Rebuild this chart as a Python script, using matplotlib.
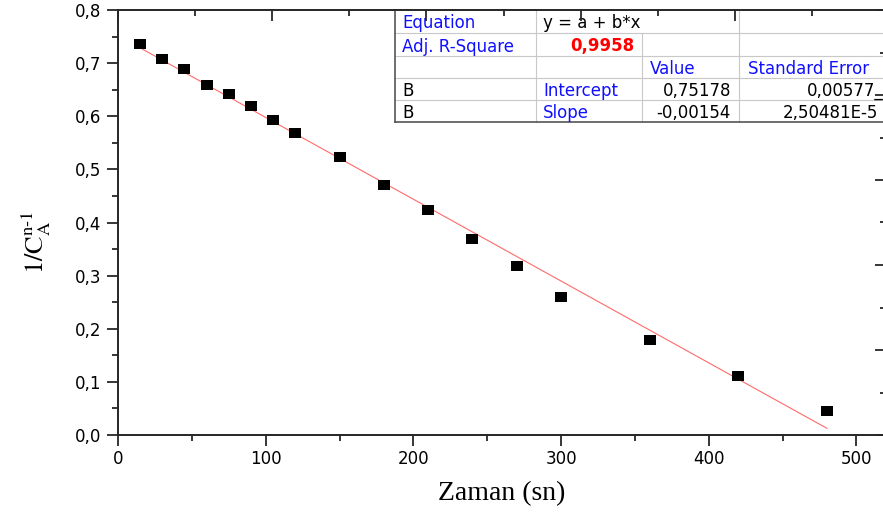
import matplotlib
matplotlib.use("Agg")
import matplotlib.pyplot as plt
from matplotlib.ticker import MultipleLocator, FuncFormatter
from matplotlib.patches import Rectangle

# Measured data: time (s) vs 1/C_A^(n-1)
zaman = [15, 30, 45, 60, 75, 90, 105, 120, 150, 180, 210, 240, 270, 300, 360, 420, 480]
inv_ca = [0.736, 0.708, 0.689, 0.659, 0.642, 0.619, 0.593, 0.568, 0.523, 0.470,
          0.423, 0.369, 0.318, 0.260, 0.179, 0.111, 0.045]

# Linear fit results (y = a + b*x)
intercept = 0.75178
slope = -0.00154
adj_r2 = 0.9958
intercept_err = "0,00577_"
slope_err = "2,50481E-5"

x_ticks = [0, 100, 200, 300, 400, 500]
y_ticks = [0.0, 0.1, 0.2, 0.3, 0.4, 0.5, 0.6, 0.7, 0.8]

W, H = 883, 515
fig = plt.figure(figsize=(W / 100, H / 100), dpi=100)

def frac(x0, y0, x1, y1):
    return [x0 / W, 1 - y1 / H, (x1 - x0) / W, (y1 - y0) / H]

axis_color = "#262626"
ax = fig.add_axes(frac(118, 10, 886, 435))
ax.set_xlim(0, 520)
ax.set_ylim(0, 0.8)
ax.set_zorder(0)

# data points as slightly wide black squares
rect_marker = [(-1, -0.8), (1, -0.8), (1, 0.8), (-1, 0.8), (-1, -0.8)]
ax.plot(zaman, inv_ca, linestyle="none", marker=rect_marker, markersize=8.8,
        color="black", markeredgewidth=0, zorder=3)

# fitted line from the reported coefficients
fx = [zaman[0], zaman[-1]]
fy = [intercept + slope * v for v in fx]
ax.plot(fx, fy, color="#ff6a6a", linewidth=0.8, zorder=2)

for side in ("top", "right"):
    ax.spines[side].set_visible(False)
for side in ("left", "bottom"):
    ax.spines[side].set_color(axis_color)
    ax.spines[side].set_linewidth(1.4)

ax.set_xticks(x_ticks)
ax.set_yticks(y_ticks)
ax.xaxis.set_minor_locator(MultipleLocator(50))
ax.yaxis.set_minor_locator(MultipleLocator(0.05))
comma = FuncFormatter(lambda v, p: f"{v:.1f}".replace(".", ","))
ax.yaxis.set_major_formatter(comma)
ax.tick_params(which="major", direction="out", length=8, width=1.3, color=axis_color,
               labelsize=12, labelcolor="black")
ax.tick_params(which="minor", direction="out", length=4.5, width=1.3, color=axis_color)
ax.tick_params(axis="x", pad=3)
ax.tick_params(axis="y", pad=4)

ax.set_xlabel("Zaman (sn)", fontfamily="Liberation Serif", fontsize=20, labelpad=9)
ax.set_ylabel(r"$\mathrm{1/C}_{\mathrm{A}}^{\mathrm{n}\text{-}\mathrm{1}}$", fontsize=19,
              math_fontfamily="stix")
ax.yaxis.set_label_coords(-0.085, 0.454)

# results table overlay in pixel coordinates
tab = fig.add_axes([0, 0, 1, 1])
tab.set_xlim(0, W)
tab.set_ylim(H, 0)
tab.axis("off")
tab.set_zorder(1)

cols = [395, 536, 642, 739, 900]
rows = [10, 33, 56, 78, 100, 122]
grid = "#c8c8c8"
tab.add_patch(Rectangle((cols[0], rows[0]), cols[-1] - cols[0], rows[-1] - rows[0],
                        facecolor="white", edgecolor="none"))
for r in rows[1:-1]:
    tab.plot([cols[0], cols[-1]], [r, r], color=grid, lw=0.8)
tab.plot([cols[1], cols[1]], [rows[0], rows[-1]], color=grid, lw=0.8)
tab.plot([cols[2], cols[2]], [rows[1], rows[-1]], color=grid, lw=0.8)
tab.plot([cols[3], cols[3]], [rows[0], rows[-1]], color=grid, lw=0.8)
tab.plot([cols[0], cols[0]], [rows[0], rows[-1]], color="#555555", lw=1.2)
tab.plot([cols[0], cols[-1]], [rows[-1], rows[-1]], color="#555555", lw=1.2)

blue = "#1010ff"
fs = 12
def cell(text, x, row, ha="left", color="black", weight="normal"):
    yc = (rows[row] + rows[row + 1]) / 2
    tab.text(x, yc, text, ha=ha, va="center_baseline", fontsize=fs, color=color,
             fontweight=weight)

cell("Equation", 402, 0, color=blue)
cell("y = a + b*x", 543, 0)
cell("Adj. R-Square", 402, 1, color=blue)
cell(f"{adj_r2:.4f}".replace(".", ","), 634, 1, ha="right", color="#ff0000", weight="bold")
cell("Value", 650, 2, color=blue)
cell("Standard Error", 748, 2, color=blue)
cell("B", 402, 3)
cell("Intercept", 543, 3, color=blue)
cell(f"{intercept:.5f}".replace(".", ","), 731, 3, ha="right")
cell(intercept_err, 884, 3, ha="right")
cell("B", 402, 4)
cell("Slope", 543, 4, color=blue)
cell(f"{slope:.5f}".replace(".", ","), 731, 4, ha="right")
cell(slope_err, 878, 4, ha="right")

# top axis with inward ticks
axt = fig.add_axes(frac(118, 10, 886, 435))
axt.set_zorder(2)
axt.patch.set_visible(False)
axt.set_xlim(0, 498)
axt.set_ylim(0, 1)
axt.xaxis.set_major_locator(MultipleLocator(100))
axt.xaxis.set_minor_locator(MultipleLocator(50))
axt.xaxis.tick_top()
axt.set_yticks([])
axt.tick_params(axis="x", which="major", direction="in", length=8, width=1.3,
                color=axis_color, labeltop=False, labelbottom=False)
axt.tick_params(axis="x", which="minor", direction="in", length=4.5, width=1.3,
                color=axis_color)
for side in ("left", "bottom", "right"):
    axt.spines[side].set_visible(False)
axt.spines["top"].set_color(axis_color)
axt.spines["top"].set_linewidth(1.4)

# right axis with inward ticks
axr = fig.add_axes(frac(118, 10, 886, 435))
axr.set_zorder(2)
axr.patch.set_visible(False)
axr.set_ylim(0, 0.5)
axr.set_xlim(0, 1)
axr.yaxis.set_major_locator(MultipleLocator(0.1))
axr.yaxis.set_minor_locator(MultipleLocator(0.05))
axr.yaxis.tick_right()
axr.set_xticks([])
axr.tick_params(axis="y", which="major", direction="in", length=8, width=1.3,
                color=axis_color, labelright=False, labelleft=False)
axr.tick_params(axis="y", which="minor", direction="in", length=4.5, width=1.3,
                color=axis_color)
for side in ("left", "bottom", "top"):
    axr.spines[side].set_visible(False)
axr.spines["right"].set_color(axis_color)
axr.spines["right"].set_linewidth(1.4)

fig.savefig("out.png", dpi=100)
